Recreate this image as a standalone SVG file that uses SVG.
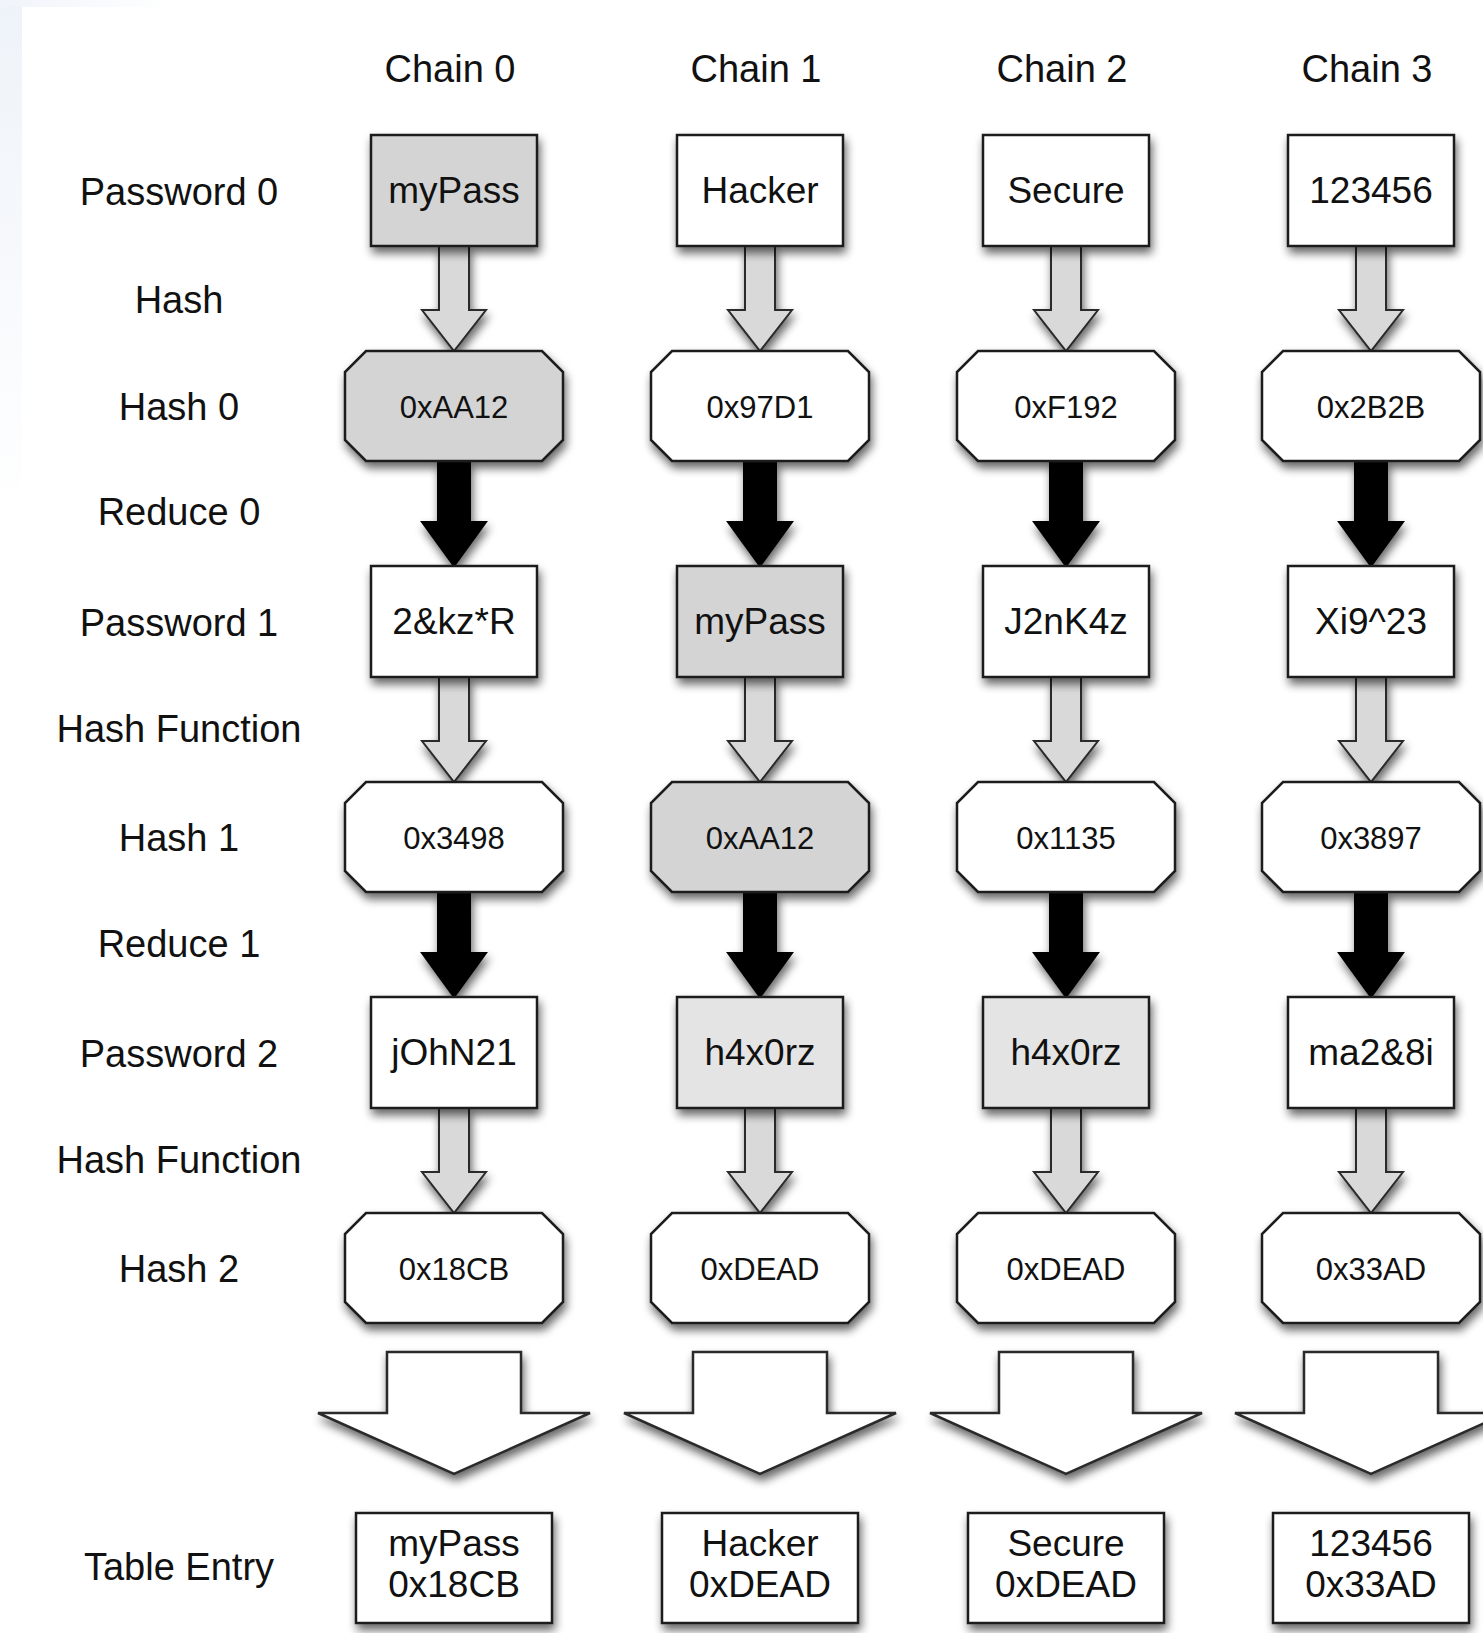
<svg xmlns="http://www.w3.org/2000/svg" width="1483" height="1633" viewBox="0 0 1483 1633">
<defs>
<style>
text{font-family:"Liberation Sans",Arial,Helvetica,sans-serif;fill:#111;text-anchor:middle}
.lbl{font-size:38px}
.t36{font-size:37px}
.t30{font-size:31px}
.box{stroke:#1a1a1a;stroke-width:2.5;fill:#fff}
.gray{fill:#d4d4d4}
.light{fill:#e4e4e4}
.garrow{fill:#d9d9d9;stroke:#2a2a2a;stroke-width:2}
.barrow{fill:#000;stroke:#000;stroke-width:2}
.big{fill:#fff;stroke:#2a2a2a;stroke-width:2.5}
.sh{filter:url(#shadow)}
</style>
<filter id="shadow" x="-30%" y="-30%" width="160%" height="170%">
<feGaussianBlur in="SourceAlpha" stdDeviation="5"/>
<feOffset dx="2" dy="6" result="b"/>
<feComponentTransfer><feFuncA type="linear" slope="0.6"/></feComponentTransfer>
<feMerge><feMergeNode/><feMergeNode in="SourceGraphic"/></feMerge>
</filter>
<linearGradient id="lg" x1="0" y1="0" x2="0" y2="1">
<stop offset="0" stop-color="#eef3f9"/>
<stop offset="1" stop-color="#ffffff"/>
</linearGradient>
<linearGradient id="tg" x1="0" y1="0" x2="1" y2="0">
<stop offset="0" stop-color="#f0f4fa"/>
<stop offset="1" stop-color="#ffffff"/>
</linearGradient>
<path id="oct" d="M-88,-55 L88,-55 L109,-34 L109,34 L88,55 L-88,55 L-109,34 L-109,-34 Z"/>
</defs>
<rect width="1483" height="1633" fill="#fff"/>
<rect x="0" y="0" width="22" height="520" fill="url(#lg)"/>
<rect x="0" y="0" width="175" height="7" fill="url(#tg)"/>

<g id="chain-labels">
<text class="lbl" x="450" y="82">Chain 0</text>
<text class="lbl" x="756" y="82">Chain 1</text>
<text class="lbl" x="1062" y="82">Chain 2</text>
<text class="lbl" x="1367" y="82">Chain 3</text>
</g>
<g id="row-labels">
<text class="lbl" x="179" y="205">Password 0</text>
<text class="lbl" x="179" y="313">Hash</text>
<text class="lbl" x="179" y="420">Hash 0</text>
<text class="lbl" x="179" y="525">Reduce 0</text>
<text class="lbl" x="179" y="636">Password 1</text>
<text class="lbl" x="179" y="742">Hash Function</text>
<text class="lbl" x="179" y="851">Hash 1</text>
<text class="lbl" x="179" y="957">Reduce 1</text>
<text class="lbl" x="179" y="1067">Password 2</text>
<text class="lbl" x="179" y="1173">Hash Function</text>
<text class="lbl" x="179" y="1282">Hash 2</text>
<text class="lbl" x="179" y="1580">Table Entry</text>
</g>

<g id="connectors">
<g transform="translate(454,0)">
<polygon class="garrow sh" points="-15,246 15,246 15,310 32,310 0,351 -32,310 -15,310"/>
<polygon class="barrow sh" points="-16,461 16,461 16,522 32,522 0,566 -32,522 -16,522"/>
<polygon class="garrow sh" points="-15,677 15,677 15,741 32,741 0,782 -32,741 -15,741"/>
<polygon class="barrow sh" points="-16,892 16,892 16,953 32,953 0,997 -32,953 -16,953"/>
<polygon class="garrow sh" points="-15,1108 15,1108 15,1172 32,1172 0,1213 -32,1172 -15,1172"/>
<polygon class="big sh" points="-67,1352 67,1352 67,1413 136,1413 0,1474 -136,1413 -67,1413"/>
</g>
<g transform="translate(760,0)">
<polygon class="garrow sh" points="-15,246 15,246 15,310 32,310 0,351 -32,310 -15,310"/>
<polygon class="barrow sh" points="-16,461 16,461 16,522 32,522 0,566 -32,522 -16,522"/>
<polygon class="garrow sh" points="-15,677 15,677 15,741 32,741 0,782 -32,741 -15,741"/>
<polygon class="barrow sh" points="-16,892 16,892 16,953 32,953 0,997 -32,953 -16,953"/>
<polygon class="garrow sh" points="-15,1108 15,1108 15,1172 32,1172 0,1213 -32,1172 -15,1172"/>
<polygon class="big sh" points="-67,1352 67,1352 67,1413 136,1413 0,1474 -136,1413 -67,1413"/>
</g>
<g transform="translate(1066,0)">
<polygon class="garrow sh" points="-15,246 15,246 15,310 32,310 0,351 -32,310 -15,310"/>
<polygon class="barrow sh" points="-16,461 16,461 16,522 32,522 0,566 -32,522 -16,522"/>
<polygon class="garrow sh" points="-15,677 15,677 15,741 32,741 0,782 -32,741 -15,741"/>
<polygon class="barrow sh" points="-16,892 16,892 16,953 32,953 0,997 -32,953 -16,953"/>
<polygon class="garrow sh" points="-15,1108 15,1108 15,1172 32,1172 0,1213 -32,1172 -15,1172"/>
<polygon class="big sh" points="-67,1352 67,1352 67,1413 136,1413 0,1474 -136,1413 -67,1413"/>
</g>
<g transform="translate(1371,0)">
<polygon class="garrow sh" points="-15,246 15,246 15,310 32,310 0,351 -32,310 -15,310"/>
<polygon class="barrow sh" points="-16,461 16,461 16,522 32,522 0,566 -32,522 -16,522"/>
<polygon class="garrow sh" points="-15,677 15,677 15,741 32,741 0,782 -32,741 -15,741"/>
<polygon class="barrow sh" points="-16,892 16,892 16,953 32,953 0,997 -32,953 -16,953"/>
<polygon class="garrow sh" points="-15,1108 15,1108 15,1172 32,1172 0,1213 -32,1172 -15,1172"/>
<polygon class="big sh" points="-67,1352 67,1352 67,1413 136,1413 0,1474 -136,1413 -67,1413"/>
</g>
</g>

<!-- Password 0 row -->
<g id="pw0-c0" transform="translate(454,190.5)"><rect class="box gray sh" x="-83" y="-55.5" width="166" height="111"/><text class="t36" y="12">myPass</text></g>
<g id="pw0-c1" transform="translate(760,190.5)"><rect class="box sh" x="-83" y="-55.5" width="166" height="111"/><text class="t36" y="12">Hacker</text></g>
<g id="pw0-c2" transform="translate(1066,190.5)"><rect class="box sh" x="-83" y="-55.5" width="166" height="111"/><text class="t36" y="12">Secure</text></g>
<g id="pw0-c3" transform="translate(1371,190.5)"><rect class="box sh" x="-83" y="-55.5" width="166" height="111"/><text class="t36" y="12">123456</text></g>

<!-- Hash 0 row -->
<g id="h0-c0" transform="translate(454,406)"><use href="#oct" class="box gray sh"/><text class="t30" y="12">0xAA12</text></g>
<g id="h0-c1" transform="translate(760,406)"><use href="#oct" class="box sh"/><text class="t30" y="12">0x97D1</text></g>
<g id="h0-c2" transform="translate(1066,406)"><use href="#oct" class="box sh"/><text class="t30" y="12">0xF192</text></g>
<g id="h0-c3" transform="translate(1371,406)"><use href="#oct" class="box sh"/><text class="t30" y="12">0x2B2B</text></g>

<!-- Password 1 row -->
<g id="pw1-c0" transform="translate(454,621.5)"><rect class="box sh" x="-83" y="-55.5" width="166" height="111"/><text class="t36" y="12">2&amp;kz*R</text></g>
<g id="pw1-c1" transform="translate(760,621.5)"><rect class="box gray sh" x="-83" y="-55.5" width="166" height="111"/><text class="t36" y="12">myPass</text></g>
<g id="pw1-c2" transform="translate(1066,621.5)"><rect class="box sh" x="-83" y="-55.5" width="166" height="111"/><text class="t36" y="12">J2nK4z</text></g>
<g id="pw1-c3" transform="translate(1371,621.5)"><rect class="box sh" x="-83" y="-55.5" width="166" height="111"/><text class="t36" y="12">Xi9^23</text></g>

<!-- Hash 1 row -->
<g id="h1-c0" transform="translate(454,837)"><use href="#oct" class="box sh"/><text class="t30" y="12">0x3498</text></g>
<g id="h1-c1" transform="translate(760,837)"><use href="#oct" class="box gray sh"/><text class="t30" y="12">0xAA12</text></g>
<g id="h1-c2" transform="translate(1066,837)"><use href="#oct" class="box sh"/><text class="t30" y="12">0x1135</text></g>
<g id="h1-c3" transform="translate(1371,837)"><use href="#oct" class="box sh"/><text class="t30" y="12">0x3897</text></g>

<!-- Password 2 row -->
<g id="pw2-c0" transform="translate(454,1052.5)"><rect class="box sh" x="-83" y="-55.5" width="166" height="111"/><text class="t36" y="12">jOhN21</text></g>
<g id="pw2-c1" transform="translate(760,1052.5)"><rect class="box light sh" x="-83" y="-55.5" width="166" height="111"/><text class="t36" y="12">h4x0rz</text></g>
<g id="pw2-c2" transform="translate(1066,1052.5)"><rect class="box light sh" x="-83" y="-55.5" width="166" height="111"/><text class="t36" y="12">h4x0rz</text></g>
<g id="pw2-c3" transform="translate(1371,1052.5)"><rect class="box sh" x="-83" y="-55.5" width="166" height="111"/><text class="t36" y="12">ma2&amp;8i</text></g>

<!-- Hash 2 row -->
<g id="h2-c0" transform="translate(454,1268)"><use href="#oct" class="box sh"/><text class="t30" y="12">0x18CB</text></g>
<g id="h2-c1" transform="translate(760,1268)"><use href="#oct" class="box sh"/><text class="t30" y="12">0xDEAD</text></g>
<g id="h2-c2" transform="translate(1066,1268)"><use href="#oct" class="box sh"/><text class="t30" y="12">0xDEAD</text></g>
<g id="h2-c3" transform="translate(1371,1268)"><use href="#oct" class="box sh"/><text class="t30" y="12">0x33AD</text></g>

<!-- Table entries -->
<g id="te-c0" transform="translate(454,1568)"><rect class="box sh" x="-98" y="-55" width="196" height="110"/><text class="t36" y="-12">myPass</text><text class="t36" y="29">0x18CB</text></g>
<g id="te-c1" transform="translate(760,1568)"><rect class="box sh" x="-98" y="-55" width="196" height="110"/><text class="t36" y="-12">Hacker</text><text class="t36" y="29">0xDEAD</text></g>
<g id="te-c2" transform="translate(1066,1568)"><rect class="box sh" x="-98" y="-55" width="196" height="110"/><text class="t36" y="-12">Secure</text><text class="t36" y="29">0xDEAD</text></g>
<g id="te-c3" transform="translate(1371,1568)"><rect class="box sh" x="-98" y="-55" width="196" height="110"/><text class="t36" y="-12">123456</text><text class="t36" y="29">0x33AD</text></g>
</svg>
